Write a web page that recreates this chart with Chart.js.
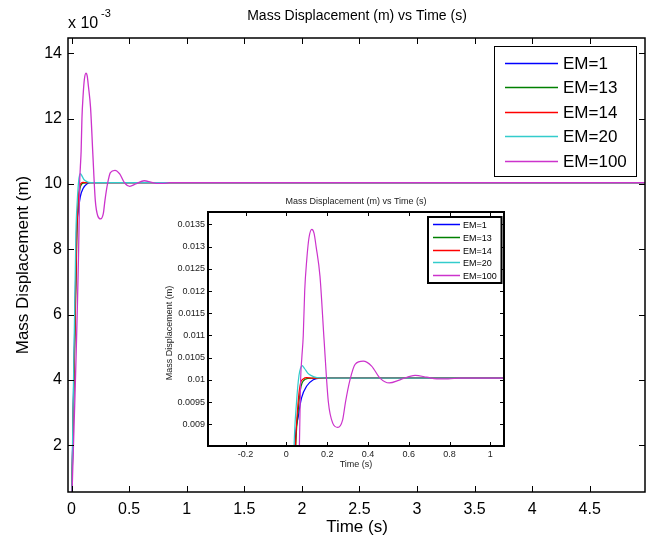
<!DOCTYPE html>
<html>
<head>
<meta charset="utf-8">
<title>Mass Displacement vs Time</title>
<script src="https://cdn.jsdelivr.net/npm/chart.js@4.4.0/dist/chart.umd.min.js"></script>
<style>
  html, body { margin: 0; padding: 0; background: #fff; }
  #wrap { position: relative; width: 652px; height: 539px; }
  #mainChart { position: absolute; left: 0; top: 0; }
  #insetChart { position: absolute; left: 140px; top: 190px; }
</style>
</head>
<body>
<div id="wrap">
  <canvas id="mainChart" width="652" height="539"></canvas>
  <canvas id="insetChart" width="370" height="290"></canvas>
</div>
<script>
// series names and colours (MATLAB b, g, r, c, m)
const seriesLabels = ["EM=1", "EM=13", "EM=14", "EM=20", "EM=100"];
const seriesColors = ["#0000ff", "#008000", "#ff0000", "#33cccc", "#cc33cc"];

// time (s) and displacement (m)
const timeEM1 = [0, 0.043, 0.059, 0.075, 0.1, 0.132, 0.165, 5];
const valEM1 = [0, 0.0085, 0.00918, 0.0096, 0.00986, 0.0100, 0.01004, 0.01004];

const timeEM13 = [0, 0.046, 0.06, 0.072, 0.086, 0.105, 0.14, 5];
const valEM13 = [0, 0.0085, 0.0094, 0.00985, 0.00999, 0.01003, 0.01004, 0.01004];

const timeEM14 = [0, 0.045, 0.059, 0.07, 0.083, 0.1, 0.13, 5];
const valEM14 = [0, 0.0085, 0.00956, 0.00993, 0.01002, 0.01005, 0.01004, 0.01004];

const timeEM20 = [0, 0.038, 0.05, 0.062, 0.07, 0.077, 0.09, 0.105, 0.12, 0.15, 0.2, 5];
const valEM20 = [0, 0.0085, 0.0095, 0.0101, 0.01027, 0.01032, 0.01025, 0.01015, 0.0101, 0.01005, 0.01004, 0.01004];

const timeEM100 = [0, 0.064, 0.07, 0.076, 0.083, 0.09, 0.1, 0.111, 0.125, 0.136, 0.146, 0.165, 0.185, 0.206,
  0.228, 0.252, 0.276, 0.29, 0.312, 0.337, 0.377, 0.418, 0.459, 0.505, 0.557, 0.631, 0.688, 0.737, 0.794, 0.85, 5];
const valEM100 = [0, 0.0085, 0.0100, 0.0105, 0.0110, 0.0120, 0.0127, 0.0132, 0.01339, 0.0133, 0.0130, 0.01233, 0.0109, 0.0095,
  0.00902, 0.00893, 0.0091, 0.0095, 0.0100, 0.01035, 0.01042, 0.01031, 0.01004, 0.00993, 0.0100, 0.0101, 0.01006, 0.01002, 0.01002, 0.01004, 0.01004];

const seriesTimes = [timeEM1, timeEM13, timeEM14, timeEM20, timeEM100];
const seriesValues = [valEM1, valEM13, valEM14, valEM20, valEM100];

// tick values
const mainXTicks = [0, 0.5, 1, 1.5, 2, 2.5, 3, 3.5, 4, 4.5];
const mainYTicks = [0.002, 0.004, 0.006, 0.008, 0.010, 0.012, 0.014];
const insetXTicks = [-0.2, 0, 0.2, 0.4, 0.6, 0.8, 1];
const insetYTicks = [0.009, 0.0095, 0.01, 0.0105, 0.011, 0.0115, 0.012, 0.0125, 0.013, 0.0135];

Chart.defaults.font.family = "'Liberation Sans', Arial, sans-serif";
Chart.defaults.color = "#000";

const makeDatasets = (lineWidth) =>
  seriesLabels.map((label, i) => ({
    label: label,
    data: seriesTimes[i].map((t, k) => ({ x: t, y: seriesValues[i][k] })),
    borderColor: seriesColors[i],
    backgroundColor: seriesColors[i],
    borderWidth: lineWidth,
    pointRadius: 0,
    cubicInterpolationMode: "monotone",
    fill: false,
    order: seriesLabels.length - 1 - i, // EM=100 drawn last (on top)
  }));

// box round the plot area + inward ticks on all four sides
const matlabAxes = {
  id: "matlabAxes",
  afterDatasetsDraw(chart, args, opts) {
    const { ctx, chartArea: a, scales } = chart;
    ctx.save();
    ctx.strokeStyle = "#000";
    ctx.lineWidth = 1;
    ctx.beginPath();
    scales.x.ticks.forEach((t) => {
      const px = Math.round(scales.x.getPixelForValue(t.value)) + 0.5;
      ctx.moveTo(px, a.bottom);
      ctx.lineTo(px, a.bottom - opts.tick);
      ctx.moveTo(px, a.top);
      ctx.lineTo(px, a.top + opts.tick);
    });
    scales.y.ticks.forEach((t) => {
      const py = Math.round(scales.y.getPixelForValue(t.value)) + 0.5;
      ctx.moveTo(a.left, py);
      ctx.lineTo(a.left + opts.tick, py);
      ctx.moveTo(a.right, py);
      ctx.lineTo(a.right - opts.tick, py);
    });
    ctx.stroke();
    ctx.lineWidth = opts.lineWidth;
    ctx.strokeRect(a.left, a.top, a.right - a.left, a.bottom - a.top);
    ctx.restore();
  },
};

// boxed legend like MATLAB's
const boxLegend = {
  id: "boxLegend",
  afterDraw(chart, args, o) {
    const ctx = chart.ctx;
    ctx.save();
    ctx.fillStyle = "#fff";
    ctx.fillRect(o.x, o.y, o.w, o.h);
    ctx.strokeStyle = "#000";
    ctx.lineWidth = o.border;
    ctx.strokeRect(o.x, o.y, o.w, o.h);
    ctx.font = o.size + "px 'Liberation Sans', Arial, sans-serif";
    ctx.textBaseline = "middle";
    ctx.textAlign = "left";
    chart.data.datasets.forEach((ds, i) => {
      const y = Math.round(o.row0 + i * o.step) + 0.5;
      ctx.strokeStyle = ds.borderColor;
      ctx.lineWidth = o.lineWidth;
      ctx.beginPath();
      ctx.moveTo(o.line0, y);
      ctx.lineTo(o.line1, y);
      ctx.stroke();
      ctx.fillStyle = "#000";
      ctx.fillText(ds.label, o.textX, y + 1);
    });
    ctx.restore();
  },
};

// free texts: title, axis labels, exponent
const freeText = {
  id: "freeText",
  afterDraw(chart, args, o) {
    const ctx = chart.ctx;
    o.items.forEach((it) => {
      ctx.save();
      ctx.fillStyle = it.color || "#000";
      ctx.font = it.size + "px 'Liberation Sans', Arial, sans-serif";
      ctx.textAlign = it.align || "center";
      ctx.textBaseline = it.baseline || "middle";
      ctx.translate(it.x, it.y);
      if (it.rotate) ctx.rotate(it.rotate);
      ctx.fillText(it.text, 0, 0);
      ctx.restore();
    });
  },
};

const setTicks = (list) => (scale) => {
  scale.ticks = list.map((v) => ({ value: v }));
};

// main chart
new Chart(document.getElementById("mainChart"), {
  type: "line",
  data: { datasets: makeDatasets(1.3) },
  options: {
    responsive: false,
    animation: false,
    devicePixelRatio: 1,
    layout: { autoPadding: false, padding: { left: 0, top: 38, right: 7, bottom: 0 } },
    plugins: {
      legend: { display: false },
      tooltip: { enabled: false },
      matlabAxes: { tick: 6, lineWidth: 1.5 },
      boxLegend: {
        x: 494.5, y: 46.5, w: 142, h: 130, border: 1, size: 17,
        row0: 62.5, step: 24.6, line0: 505, line1: 558, textX: 563, lineWidth: 1.3,
      },
      freeText: {
        items: [
          { text: "Mass Displacement (m) vs Time (s)", x: 357, y: 16, size: 14 },
          { text: "x 10", x: 68, y: 28, size: 16, align: "left", baseline: "alphabetic" },
          { text: "-3", x: 101, y: 17, size: 11, align: "left", baseline: "alphabetic" },
          { text: "Time (s)", x: 357, y: 527, size: 17 },
          { text: "Mass Displacement (m)", x: 23, y: 265, size: 17, rotate: -Math.PI / 2 },
        ],
      },
    },
    scales: {
      x: {
        type: "linear",
        min: -0.031,
        max: 4.98,
        grid: { display: false, drawTicks: false },
        border: { display: false },
        afterBuildTicks: setTicks(mainXTicks),
        afterFit: (s) => { s.height = 47; },
        ticks: { padding: 8, font: { size: 16 }, maxRotation: 0, autoSkip: false, callback: (v) => String(v) },
      },
      y: {
        type: "linear",
        min: 0.00057,
        max: 0.01447,
        grid: { display: false, drawTicks: false },
        border: { display: false },
        afterBuildTicks: setTicks(mainYTicks),
        afterFit: (s) => { s.width = 68; },
        ticks: { padding: 6, font: { size: 16 }, autoSkip: false, callback: (v) => String(Math.round(v * 1000)) },
      },
    },
  },
  plugins: [matlabAxes, boxLegend, freeText],
});

// inset (zoom on the first second)
new Chart(document.getElementById("insetChart"), {
  type: "line",
  data: { datasets: makeDatasets(1.2) },
  options: {
    responsive: false,
    animation: false,
    devicePixelRatio: 1,
    layout: { autoPadding: false, padding: { left: 0, top: 22, right: 6, bottom: 0 } },
    plugins: {
      legend: { display: false },
      tooltip: { enabled: false },
      matlabAxes: { tick: 4, lineWidth: 2 },
      boxLegend: {
        x: 288, y: 27, w: 73.5, h: 66, border: 2, size: 9,
        row0: 34.3, step: 12.7, line0: 293, line1: 320, textX: 323, lineWidth: 1.5,
      },
      freeText: {
        items: [
          { text: "Mass Displacement (m) vs Time (s)", x: 216, y: 12, size: 9, color: "#222" },
          { text: "Time (s)", x: 216, y: 275, size: 9, color: "#222" },
          { text: "Mass Displacement (m)", x: 29.5, y: 143, size: 9, rotate: -Math.PI / 2, color: "#222" },
        ],
      },
    },
    scales: {
      x: {
        type: "linear",
        min: -0.384,
        max: 1.067,
        grid: { display: false, drawTicks: false },
        border: { display: false },
        afterBuildTicks: setTicks(insetXTicks),
        afterFit: (s) => { s.height = 34; },
        ticks: { padding: 3, color: "#222", font: { size: 9 }, maxRotation: 0, autoSkip: false, callback: (v) => String(v) },
      },
      y: {
        type: "linear",
        min: 0.00851,
        max: 0.01378,
        grid: { display: false, drawTicks: false },
        border: { display: false },
        afterBuildTicks: setTicks(insetYTicks),
        afterFit: (s) => { s.width = 68; },
        ticks: { padding: 3, color: "#222", font: { size: 9 }, autoSkip: false, callback: (v) => String(v) },
      },
    },
  },
  plugins: [matlabAxes, boxLegend, freeText],
});
</script>
</body>
</html>
